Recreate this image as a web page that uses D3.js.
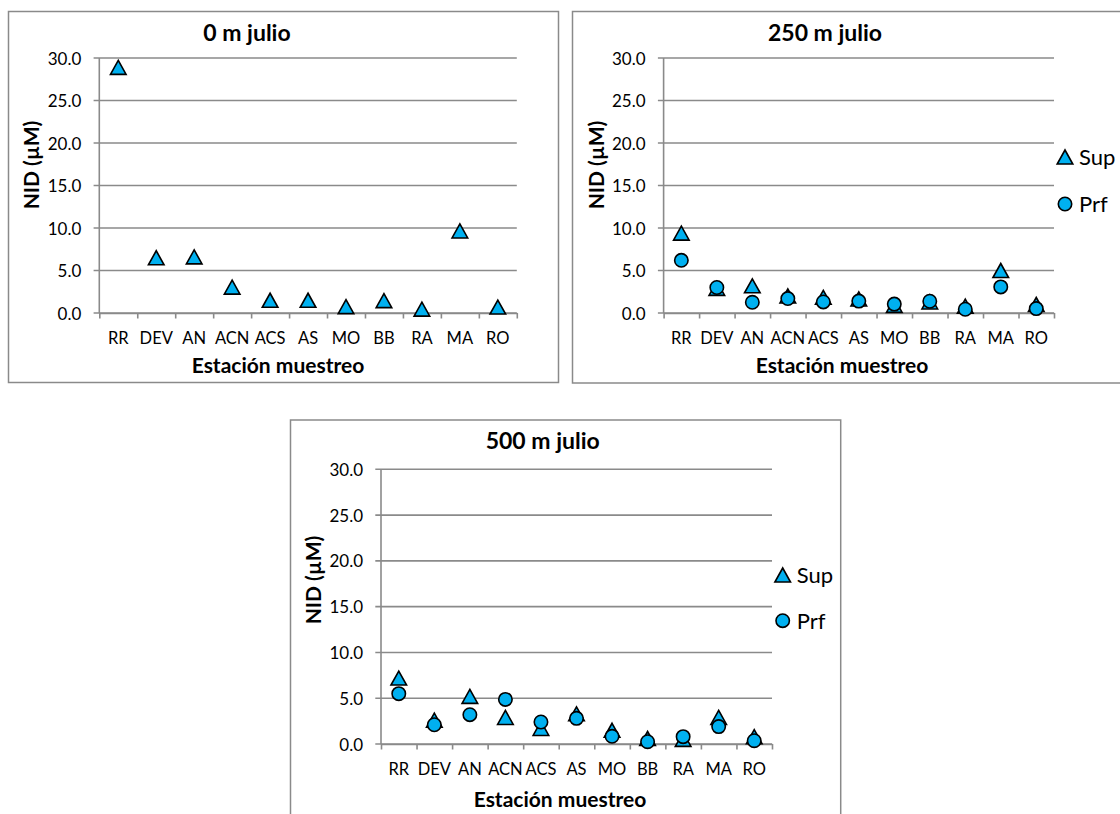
<!DOCTYPE html>
<html>
<head>
<meta charset="utf-8">
<script src="https://cdn.jsdelivr.net/npm/d3@7"></script>
<style>
  html, body { margin: 0; padding: 0; background: #fff; }
  svg { display: block; }
  text { font-family: Lato, "Open Sans", sans-serif; fill: #000; }
</style>
</head>
<body>
<svg id="chart" width="1120" height="814"></svg>
<script>
// Sampling stations along the transect
const stations = ["RR", "DEV", "AN", "ACN", "ACS", "AS", "MO", "BB", "RA", "MA", "RO"];
const yTicks = [0, 5, 10, 15, 20, 25, 30];
const seriesNames = ["Sup", "Prf"];
const panelTitles = ["0 m julio", "250 m julio", "500 m julio"];

// Dissolved inorganic nitrogen (µM), surface (Sup) and deep (Prf) samples
const sup0   = [28.9, 6.5, 6.6, 3.05, 1.5, 1.5, 0.75, 1.45, 0.45, 9.65, 0.7];
const sup250 = [9.4, 2.9, 3.2, 2.0, 1.85, 1.65, 0.9, 1.3, 0.8, 5.0, 1.0];
const prf250 = [6.2, 3.0, 1.26, 1.7, 1.3, 1.4, 1.05, 1.38, 0.44, 3.07, 0.52];
const sup500 = [7.2, 2.6, 5.2, 2.9, 1.7, 3.3, 1.5, 0.6, 0.5, 2.9, 0.8];
const prf500 = [5.5, 2.1, 3.2, 4.87, 2.4, 2.8, 0.84, 0.25, 0.8, 1.9, 0.36];

const FILL = "#00B0F0";
const GRID = "#8a8a8a";

// Triangle marker centred on its bounding box
const triangleType = {
  draw(ctx) {
    ctx.moveTo(0, -7);
    ctx.lineTo(7.8, 7);
    ctx.lineTo(-7.8, 7);
    ctx.closePath();
  }
};
const triangle = d3.symbol().type(triangleType)();
const circle = d3.symbol().type(d3.symbolCircle).size(Math.PI * 6.7 * 6.7)();
const shapes = { Sup: triangle, Prf: circle };

const svg = d3.select("#chart");

const panels = [
  {
    title: panelTitles[0], series: { Sup: sup0 },
    box: [8.5, 11.5, 550, 371],
    plot: { x0: 99.3, x1: 516.8, y0: 313, y1: 58 },
    titlePos: [247, 40.7], yTitlePos: [31, 165], xTitlePos: [278, 373], catBase: 344,
    legend: null
  },
  {
    title: panelTitles[1], series: { Sup: sup250, Prf: prf250 },
    box: [572.5, 11.5, 570, 371.5],
    plot: { x0: 663.6, x1: 1054, y0: 313, y1: 58 },
    titlePos: [825, 40.7], yTitlePos: [596, 165], xTitlePos: [842, 373], catBase: 344,
    legend: { x: 1065, ys: [157, 204], tx: 1079 }
  },
  {
    title: panelTitles[2], series: { Sup: sup500, Prf: prf500 },
    box: [290.5, 420, 550.2, 420],
    plot: { x0: 381, x1: 772, y0: 744, y1: 469.3 },
    titlePos: [542.7, 449.3], yTitlePos: [313, 580], xTitlePos: [560, 806.7], catBase: 774.5,
    legend: { x: 782.7, ys: [575, 620.7], tx: 796.7 }
  }
];

panels.forEach(p => {
  const g = svg.append("g");
  const { x0, x1, y0, y1 } = p.plot;

  // chart frame
  g.append("rect")
    .attr("x", p.box[0]).attr("y", p.box[1])
    .attr("width", p.box[2]).attr("height", p.box[3])
    .attr("fill", "#fff").attr("stroke", GRID).attr("stroke-width", 1.5);

  const x = d3.scaleBand().domain(stations).range([x0, x1]).padding(0);
  const xEdges = d3.scaleLinear().domain([0, stations.length]).range([x0, x1]);
  const y = d3.scaleLinear().domain([0, 30]).range([y0, y1]);

  // horizontal gridlines with their outside tick
  g.append("g").selectAll("line").data(yTicks).join("line")
    .attr("x1", x0 - 5.7).attr("x2", x1)
    .attr("y1", d => y(d)).attr("y2", d => y(d))
    .attr("stroke", GRID).attr("stroke-width", 1.6);

  // y axis
  const yAxis = d3.axisLeft(y).tickValues(yTicks).tickFormat(d3.format(".1f"))
    .tickSize(0).tickPadding(18);
  const ya = g.append("g").attr("transform", `translate(${x0},0)`).call(yAxis);
  ya.select(".domain").remove();
  ya.selectAll("text").attr("font-size", 17).attr("font-family", "Lato").attr("fill", "#000")
    .attr("dy", "0.36em");
  g.append("line").attr("x1", x0).attr("x2", x0).attr("y1", y1).attr("y2", y0)
    .attr("stroke", GRID).attr("stroke-width", 1.6);

  // x axis: ticks on category boundaries, labels in band centres
  const xEdgeAxis = d3.axisBottom(xEdges).tickValues(d3.range(stations.length + 1))
    .tickFormat("").tickSizeInner(5.5).tickSizeOuter(0);
  const xe = g.append("g").attr("transform", `translate(0,${y0})`).call(xEdgeAxis);
  xe.select(".domain").attr("stroke", GRID).attr("stroke-width", 1.6);
  xe.selectAll(".tick line").attr("stroke", GRID).attr("stroke-width", 1.6);

  const xLabAxis = d3.axisBottom(x).tickSize(0).tickPadding(0);
  const xl = g.append("g").attr("transform", `translate(0,${p.catBase})`).call(xLabAxis);
  xl.select(".domain").remove();
  xl.selectAll("text").attr("font-size", 16.5).attr("font-family", "Lato").attr("fill", "#000")
    .attr("dy", 0).attr("y", 0);

  // titles
  g.append("text").attr("x", p.titlePos[0]).attr("y", p.titlePos[1])
    .attr("text-anchor", "middle").attr("font-weight", "bold").attr("font-size", 23)
    .text(p.title);
  g.append("text").attr("x", p.xTitlePos[0]).attr("y", p.xTitlePos[1])
    .attr("text-anchor", "middle").attr("font-weight", "bold").attr("font-size", 21)
    .text("Estación muestreo");
  g.append("text")
    .attr("transform", `translate(${p.yTitlePos[0]},${p.yTitlePos[1]}) rotate(-90)`)
    .attr("text-anchor", "middle").attr("dy", "0.36em")
    .attr("font-weight", "bold").attr("font-size", 21)
    .text("NID (µM)");

  // markers: surface first, deep drawn on top
  seriesNames.forEach(name => {
    const vals = p.series[name];
    if (!vals) return;
    g.append("g").selectAll("path").data(vals).join("path")
      .attr("d", shapes[name])
      .attr("transform", (d, i) => `translate(${x(stations[i]) + x.bandwidth() / 2},${y(d)})`)
      .attr("fill", FILL).attr("stroke", "#000").attr("stroke-width", 1.6);
  });

  // legend
  if (p.legend) {
    const lg = g.append("g");
    seriesNames.forEach((name, i) => {
      lg.append("path").attr("d", shapes[name])
        .attr("transform", `translate(${p.legend.x},${p.legend.ys[i]})`)
        .attr("fill", FILL).attr("stroke", "#000").attr("stroke-width", 1.6);
      lg.append("text").attr("x", p.legend.tx).attr("y", p.legend.ys[i])
        .attr("dy", "0.36em").attr("font-size", 22).text(name);
    });
  }
});
</script>
</body>
</html>
